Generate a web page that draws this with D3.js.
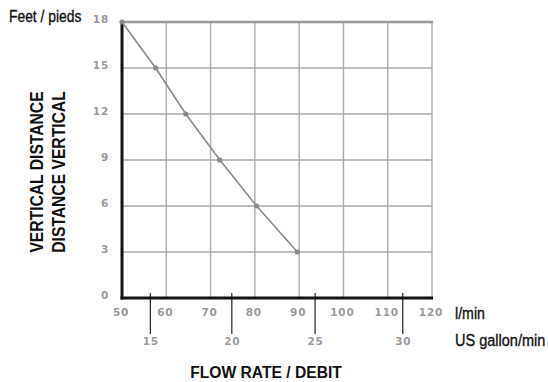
<!DOCTYPE html>
<html><head><meta charset="utf-8">
<script src="https://cdn.jsdelivr.net/npm/d3@7"></script>
<style>
body{margin:0;background:#fff;}
.cond{font-family:"Liberation Sans",Arial,sans-serif;}
.num{font-family:"DejaVu Sans",sans-serif;font-weight:bold;fill:#9a9a9a;font-size:10.5px;letter-spacing:0.8px;}
</style></head><body>
<svg id="c" width="548" height="382"></svg>
<script>
// Data
const flowLmin = [50, 57.6, 64.4, 72.1, 80.4, 89.6];
const heightFt = [18, 15, 12, 9, 6, 3];
const xTicks = [50, 60, 70, 80, 90, 100, 110, 120];
const yTicks = [0, 3, 6, 9, 12, 15, 18];
const galTicks = [15, 20, 25, 30];
// litre value at which each US gallon tick sits on the reference
const galTickLitres = [56.4, 74.8, 93.6, 113.4];

const svg = d3.select("#c");
const x = d3.scaleLinear().domain([50, 120]).range([122, 432]);
const y = d3.scaleLinear().domain([0, 18]).range([298, 22]);
const gal = galTicks.map((d, i) => ({v: d, l: galTickLitres[i]}));

// grid
const g = svg.append("g");
g.selectAll(".vg").data(xTicks.filter(d => d > 50)).join("line")
  .attr("x1", d => x(d)).attr("x2", d => x(d)).attr("y1", y(18)).attr("y2", y(0))
  .attr("stroke", "#b0b0b0").attr("stroke-width", 1.5);
g.selectAll(".hg").data(yTicks.filter(d => d > 0 && d < 18)).join("line")
  .attr("x1", x(50)).attr("x2", x(120)).attr("y1", d => y(d)).attr("y2", d => y(d))
  .attr("stroke", "#a8a8a8").attr("stroke-width", 1.5);
g.append("line").attr("x1", x(50)).attr("x2", x(120) + 1).attr("y1", y(18)).attr("y2", y(18))
  .attr("stroke", "#999").attr("stroke-width", 2.5);

// gallon tick lines
svg.selectAll(".gt").data(gal).join("line")
  .attr("x1", d => x(d.l)).attr("x2", d => x(d.l))
  .attr("y1", 293).attr("y2", 334)
  .attr("stroke", "#222").attr("stroke-width", 1.2);

// axes
svg.append("line").attr("x1", x(50)).attr("x2", x(50)).attr("y1", y(18) - 1).attr("y2", y(0) + 1.5)
  .attr("stroke", "#111").attr("stroke-width", 3);
svg.append("line").attr("x1", x(50) - 1.5).attr("x2", x(120) + 1).attr("y1", y(0)).attr("y2", y(0))
  .attr("stroke", "#111").attr("stroke-width", 3);

// data line
const pts = flowLmin.map((v, i) => [v, heightFt[i]]);
svg.append("path").datum(pts)
  .attr("d", d3.line().x(d => x(d[0])).y(d => y(d[1])))
  .attr("fill", "none").attr("stroke", "#8a8a8a").attr("stroke-width", 1.6);
svg.selectAll(".pt").data(pts).join("circle")
  .attr("cx", d => x(d[0])).attr("cy", d => y(d[1])).attr("r", 2.6).attr("fill", "#8a8a8a");

// tick labels
svg.selectAll(".yl").data(yTicks).join("text").attr("class", "num")
  .attr("x", 109).attr("y", d => y(d) + 0.5).attr("text-anchor", "end").text(d => d);
svg.selectAll(".xl").data(xTicks).join("text").attr("class", "num")
  .attr("x", d => x(d) - 1).attr("y", 316).attr("text-anchor", "middle").text(d => d);
svg.selectAll(".gl").data(gal).join("text").attr("class", "num")
  .attr("x", d => x(d.l) + 0.5).attr("y", 345).attr("text-anchor", "middle").text(d => d.v);

// titles (condensed via horizontal scaling)
function condText(tx, ty, txt, size, sx, opts = {}) {
  return svg.append("text").attr("class", "cond")
    .attr("transform", `translate(${tx},${ty}) scale(${sx},1)`)
    .attr("font-size", size).attr("fill", "#111")
    .attr("font-weight", opts.bold ? "bold" : "normal")
    .attr("stroke", opts.bold ? null : "#111").attr("stroke-width", opts.bold ? null : 0.35)
    .attr("text-anchor", opts.anchor || "start").text(txt);
}
condText(9, 22, "Feet / pieds", 16.5, 0.84);
condText(455, 319, "l/min", 16.5, 0.86);
condText(455, 346, "US gallon/min", 16.5, 0.88);
condText(266, 378, "FLOW RATE / DEBIT", 17, 0.92, {bold: true, anchor: "middle"});

const yt = svg.append("text").attr("class", "cond")
  .attr("transform", "translate(43,172) rotate(-90) scale(0.87,1)")
  .attr("text-anchor", "middle").attr("font-size", 18).attr("font-weight", "bold").attr("fill", "#111");
yt.append("tspan").attr("x", 0).attr("dy", 0).text("VERTICAL DISTANCE");
yt.append("tspan").attr("x", 0).attr("dy", 22).text("DISTANCE VERTICAL");
</script>
</body></html>
